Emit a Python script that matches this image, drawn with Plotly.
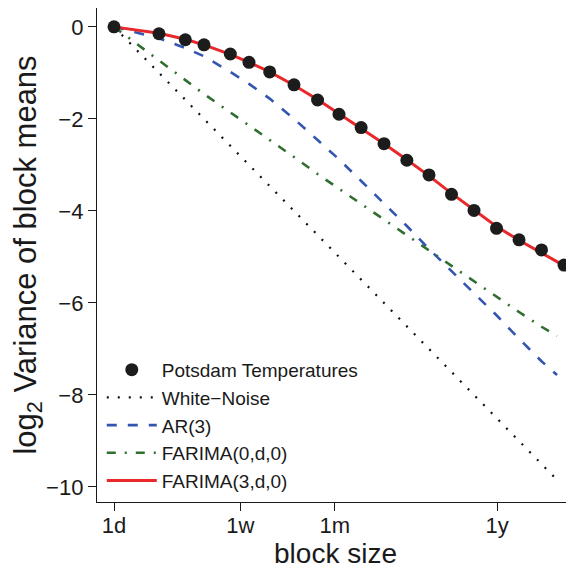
import plotly.graph_objects as go

# block sizes in days
block_sizes = [1, 2, 3, 4, 6, 8, 11, 16, 23, 32, 45, 64, 91, 128, 181, 256, 362, 512, 724, 1024]
model_sizes = [1, 2, 3, 4, 6, 8, 11, 16, 23, 32, 45, 64, 91, 128, 181, 256, 362, 512, 724, 920]

potsdam = [0.0, -0.15, -0.28, -0.39, -0.59, -0.77, -0.98, -1.26, -1.59, -1.90,
           -2.19, -2.54, -2.90, -3.22, -3.64, -3.99, -4.38, -4.63, -4.85, -5.18]
white_noise = [0.0, -1.0, -1.58, -2.0, -2.58, -3.0, -3.46, -4.0, -4.52, -5.0,
               -5.49, -6.0, -6.51, -7.0, -7.5, -8.0, -8.5, -9.0, -9.5, -9.85]
ar3 = [0.0, -0.25, -0.46, -0.64, -0.98, -1.24, -1.56, -2.00, -2.46, -2.88,
       -3.35, -3.83, -4.33, -4.83, -5.31, -5.79, -6.27, -6.78, -7.27, -7.57]
farima0 = [0.0, -0.72, -1.16, -1.46, -1.86, -2.14, -2.46, -2.83, -3.20, -3.52,
           -3.85, -4.19, -4.53, -4.87, -5.21, -5.54, -5.88, -6.20, -6.52, -6.72]
farima3 = [0.0, -0.14, -0.27, -0.39, -0.60, -0.77, -0.98, -1.27, -1.58, -1.89,
           -2.20, -2.54, -2.89, -3.24, -3.62, -3.98, -4.34, -4.64, -4.91, -5.19]

tick_vals = [1, 7, 30, 365]
tick_text = ["1d", "1w", "1m", "1y"]
y_ticks = [0, -2, -4, -6, -8, -10]

FONT = "Liberation Sans, Arial, Helvetica, sans-serif"
INK = "#1a1a1a"

fig = go.Figure()
fig.add_trace(go.Scatter(
    x=model_sizes, y=white_noise, mode="lines", name="White\u2212Noise", legendrank=2,
    line=dict(color="#111111", width=2.2, dash="2px,9px"),
))
fig.add_trace(go.Scatter(
    x=model_sizes, y=ar3, mode="lines", name="AR(3)", legendrank=3,
    line=dict(color="#3355b0", width=2.6, dash="10px,11px"),
))
fig.add_trace(go.Scatter(
    x=model_sizes, y=farima0, mode="lines", name="FARIMA(0,d,0)", legendrank=4,
    line=dict(color="#2f6e2f", width=2.6, dash="9px,9px,2px,9px"),
))
fig.add_trace(go.Scatter(
    x=block_sizes, y=farima3, mode="lines", name="FARIMA(3,d,0)", legendrank=5,
    line=dict(color="#e8282b", width=3),
))
fig.add_trace(go.Scatter(
    x=block_sizes, y=potsdam, mode="markers", name="Potsdam Temperatures", legendrank=1,
    marker=dict(color="#1c1c1c", size=13),
))

# the page puts the figure 8px in from the top-left corner, margins allow for that
fig.update_layout(
    width=574,
    height=575,
    margin=dict(l=89, r=8, t=0, b=81),
    paper_bgcolor="white",
    plot_bgcolor="white",
    font=dict(family=FONT, color=INK, size=20),
    legend=dict(
        x=0.01, y=0.306, xanchor="left", yanchor="top",
        bgcolor="rgba(0,0,0,0)", font=dict(size=19), itemwidth=50,
        tracegroupgap=0,
    ),
    showlegend=True,
)
fig.update_xaxes(
    type="log", range=[-0.1137, 3.077], automargin=False,
    tickvals=tick_vals, ticktext=tick_text,
    ticks="outside", ticklen=8, tickwidth=1.2, tickcolor=INK,
    showline=True, linecolor=INK, linewidth=1.4,
    showgrid=False, zeroline=False,
    tickfont=dict(size=22), ticklabelstandoff=-5,
    title=dict(text="block size", font=dict(size=28), standoff=2),
)
fig.update_yaxes(
    range=[-10.33, 0.41], automargin=False,
    tickvals=y_ticks,
    ticks="outside", ticklen=8, tickwidth=1.2, tickcolor=INK,
    showline=True, linecolor=INK, linewidth=1.4,
    showgrid=False, zeroline=False,
    tickfont=dict(size=22),
    title=dict(text="log<sub>2</sub> Variance of block means", font=dict(size=31), standoff=6),
)

fig.write_html("out.html")
